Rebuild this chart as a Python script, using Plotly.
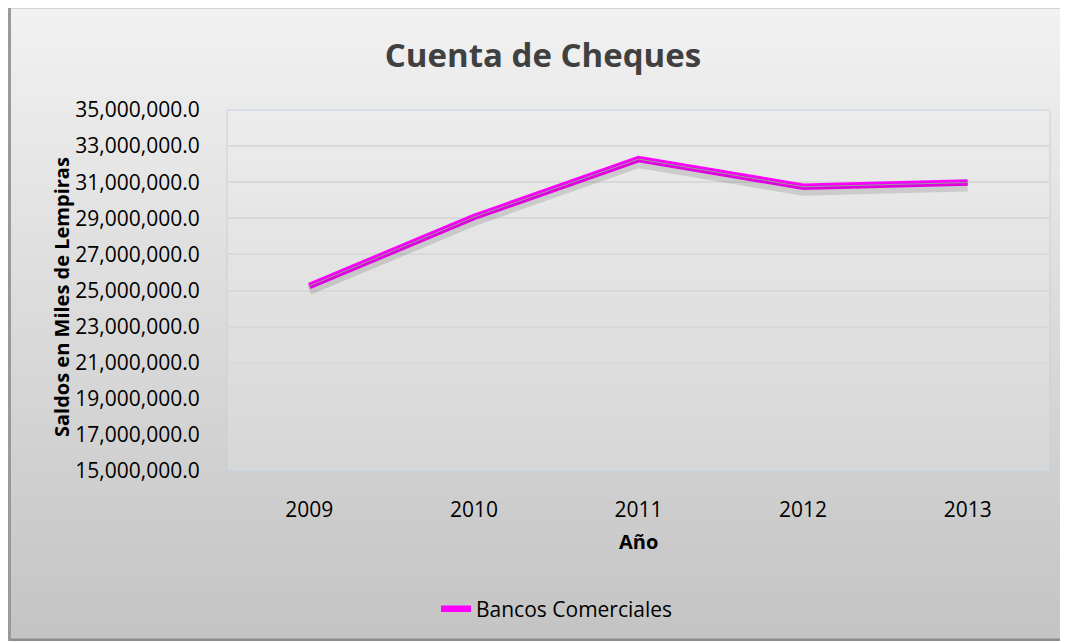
import plotly.graph_objects as go

# ---- data ----
years = ["2009", "2010", "2011", "2012", "2013"]
bancos_comerciales = [25250000, 29070000, 32280000, 30750000, 30980000]
y_ticks = [15000000, 17000000, 19000000, 21000000, 23000000, 25000000,
           27000000, 29000000, 31000000, 33000000, 35000000]
y_tick_labels = [f"{v:,.1f}" for v in y_ticks]
title_text = "Cuenta de Cheques"
y_title = "Saldos en Miles de Lempiras"
x_title = "Año"
series_name = "Bancos Comerciales"

# ---- layout geometry (pixels, figure coordinates) ----
W, H = 1054, 633
L, T = 219, 102
PR, PB = 1042, 463
R, B = W - PR, H - PB
PW, PH = PR - L, PB - T


def px_x(p):
    return (p - L) / PW


def px_y(p):
    return 1 - (p - T) / PH


def lerp_gray(c0, c1, f):
    v = round(c0 + (c1 - c0) * f)
    return f"rgb({v},{v},{v})"


shapes = []
# frame edges
shapes.append(dict(type="rect", xref="paper", yref="paper", layer="below",
                   x0=px_x(0), x1=px_x(W), y0=px_y(H), y1=px_y(0),
                   fillcolor="#d4d4d4", line=dict(width=0)))
shapes.append(dict(type="rect", xref="paper", yref="paper", layer="below",
                   x0=px_x(0), x1=px_x(W), y0=px_y(634), y1=px_y(630),
                   fillcolor="#8c8c8c", line=dict(width=0)))
shapes.append(dict(type="rect", xref="paper", yref="paper", layer="below",
                   x0=px_x(-1), x1=px_x(3), y0=px_y(634), y1=px_y(0),
                   fillcolor="#9a9a9a", line=dict(width=0)))
# chart background gradient
n = 60
top, bot = 1, 630
for i in range(n):
    a = top + (bot - top) * i / n
    b = top + (bot - top) * (i + 1) / n
    shapes.append(dict(type="rect", xref="paper", yref="paper", layer="below",
                       x0=px_x(3), x1=px_x(W - 1), y0=px_y(b + 0.6), y1=px_y(a),
                       fillcolor=lerp_gray(241, 196, i / (n - 1)),
                       line=dict(width=0)))
# plot area gradient
n2 = 30
for i in range(n2):
    a = T + PH * i / n2
    b = T + PH * (i + 1) / n2
    shapes.append(dict(type="rect", xref="paper", yref="paper", layer="below",
                       x0=0, x1=1, y0=px_y(b + 0.6), y1=px_y(a),
                       fillcolor=lerp_gray(236, 215, i / (n2 - 1)),
                       line=dict(width=0)))
# plot area border
shapes.append(dict(type="rect", xref="paper", yref="paper", layer="below",
                   x0=0, x1=1, y0=0, y1=1, fillcolor="rgba(0,0,0,0)",
                   line=dict(color="#c3d0dd", width=1)))

fig = go.Figure()

# shadow
shadow_shift = 4 * (y_ticks[-1] - y_ticks[0]) / PH
fig.add_trace(go.Scatter(x=years, y=bancos_comerciales, yaxis="y2",
                         mode="lines", showlegend=False, hoverinfo="skip",
                         line=dict(color="rgba(0,0,0,0.12)", width=10)))
fig.add_trace(go.Scatter(x=years, y=bancos_comerciales, name=series_name,
                         mode="lines",
                         line=dict(color="#ff00ff", width=6.5)))
fig.add_trace(go.Scatter(x=years, y=bancos_comerciales, mode="lines",
                         showlegend=False, hoverinfo="skip",
                         line=dict(color="#b4b4b4", width=1)))

tick_font = dict(family="Open Sans", size=21, color="#000000")

fig.update_layout(
    width=W, height=H,
    margin=dict(l=L, r=R, t=T, b=B, autoexpand=False),
    paper_bgcolor="#ffffff",
    plot_bgcolor="rgba(0,0,0,0)",
    shapes=shapes,
    title=dict(text=f"<b>{title_text}</b>", x=535 / W, y=1 - 47 / H,
               xref="container", yref="container",
               xanchor="center", yanchor="middle",
               font=dict(family="Open Sans", size=33, color="#404040")),
    xaxis=dict(type="category", range=[-0.5, 4.5], showgrid=False,
               showline=False, zeroline=False,
               ticks="outside", ticklen=20, tickcolor="rgba(0,0,0,0)",
               tickfont=tick_font, automargin=False),
    yaxis=dict(range=[y_ticks[0], y_ticks[-1]], tickvals=y_ticks,
               ticktext=y_tick_labels, showgrid=True, gridcolor="#d9d9d9",
               gridwidth=1.5, zeroline=False, showline=False,
               ticks="outside", ticklen=22, tickcolor="rgba(0,0,0,0)",
               tickfont=tick_font, automargin=False),
    yaxis2=dict(overlaying="y", visible=False,
                range=[y_ticks[0] + shadow_shift, y_ticks[-1] + shadow_shift]),
    showlegend=True,
    legend=dict(orientation="h", x=px_x(549), y=px_y(601),
                xanchor="center", yanchor="middle",
                bgcolor="rgba(0,0,0,0)",
                font=dict(family="Open Sans", size=21, color="#000000")),
    annotations=[
        dict(text=f"<b>{y_title}</b>", xref="paper", yref="paper",
             x=px_x(53), y=px_y(289), textangle=-90, showarrow=False,
             xanchor="center", yanchor="middle",
             font=dict(family="Open Sans", size=20, color="#000000")),
        dict(text=f"<b>{x_title}</b>", xref="paper", yref="paper",
             x=px_x(630), y=px_y(533), showarrow=False,
             xanchor="center", yanchor="middle",
             font=dict(family="Open Sans", size=20, color="#000000")),
    ],
)

fig.write_html("out.html")
